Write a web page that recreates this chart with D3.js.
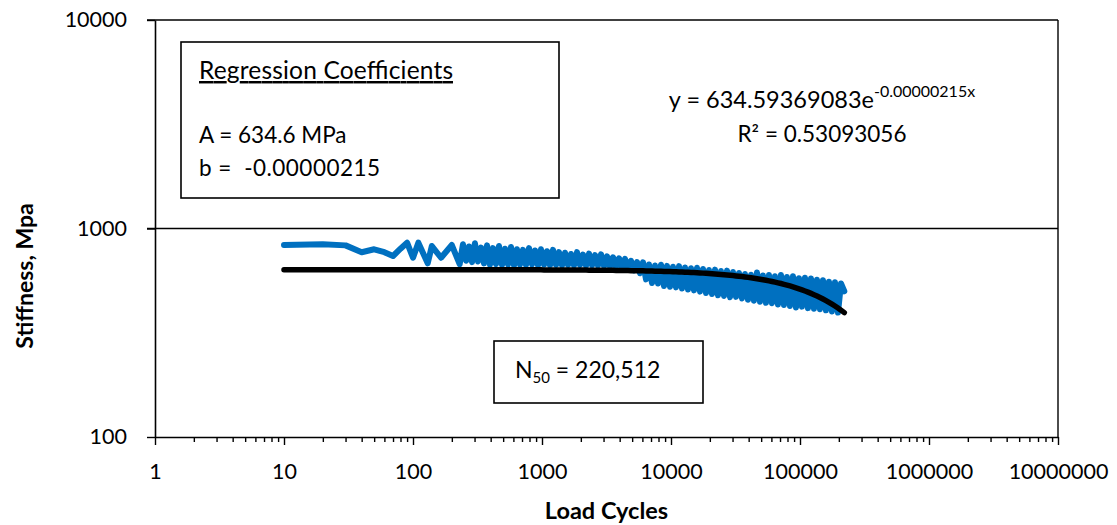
<!DOCTYPE html>
<html>
<head>
<meta charset="utf-8">
<script src="https://cdn.jsdelivr.net/npm/d3@7"></script>
<style>
  html, body { margin: 0; padding: 0; background: #fff; }
  svg { display: block; font-family: Lato, "Open Sans", sans-serif; }
</style>
</head>
<body>
<div id="chart"></div>
<script>
const cycles = [10, 20, 30, 40, 50, 60, 70, 80, 90, 100, 110, 130, 140, 165, 200, 230,
  244, 258, 272, 287, 302, 319,
  337, 355, 375, 395, 417, 440, 464, 490, 517, 545, 575, 607, 640, 675,
  712, 752, 793, 837, 883, 931, 982, 1036, 1094, 1153, 1217, 1284, 1354, 1429,
  1508, 1591, 1678, 1771, 1868, 1971, 2079, 2194, 2314, 2442, 2576, 2718, 2868,
  3025, 3192, 3367, 3552, 3747, 3954, 4171, 4400, 4642,
  4897, 5167, 5451, 5751, 6067,
  6401, 6753, 7124, 7516, 7929, 8365,
  8826, 9311, 9823, 10363, 10934, 11535, 12170, 12839, 13545, 14290, 15077, 15906, 16781,
  17704, 18678, 19705, 20789, 21932, 23139, 24411, 25754, 27171, 28665, 30242, 31906, 33660,
  35512, 37465, 39526, 41700, 43994, 46414, 48967, 51660, 54502, 57500, 60662, 64000, 67517,
  71231, 75150, 79283, 83645, 88246, 93100, 98221, 103625, 109324, 115338, 121682, 128376, 135437, 142888,
  150747, 159040, 167788, 177017, 186754, 197027, 207865, 220512];

const stiffness = [833, 840, 830, 769, 795, 770, 738, 800, 855, 724, 855, 681, 824, 724, 833, 674,
  840, 700, 820, 690, 850, 695,
  810, 680, 830, 670, 805, 675, 825, 668, 800, 672, 815, 665, 795, 670,
  790, 668, 805, 672, 785, 665, 795, 670, 778, 666, 790, 668, 770, 665,
  765, 668, 755, 665, 770, 668, 750, 662, 758, 666, 745, 664, 752,
  660, 735, 656, 728, 655, 720, 652, 715, 650,
  700, 630, 690, 610, 688,
  570, 672, 548, 665, 545, 670,
  530, 662, 525, 655, 522, 660, 515, 650, 510, 645, 505, 648, 498,
  640, 490, 632, 485, 635, 478, 625, 475, 628, 468, 618, 470, 612,
  462, 605, 455, 600, 450, 615, 445, 595, 440, 598, 438, 590, 432,
  598, 430, 585, 425, 590, 418, 578, 422, 580, 415, 575, 412, 568, 410,
  565, 405, 555, 400, 552, 395, 545, 500];

// exponential trendline  y = A e^(b x)
const fitA = 634.59369083;
const fitB = -0.00000215;
const rSquared = "0.53093056";
const n50 = "220,512";

const xTicks = [1, 10, 100, 1000, 10000, 100000, 1000000, 10000000];
const yTicks = [100, 1000, 10000];

const width = 1117, height = 525;
const plot = { left: 155, right: 1058, top: 20, bottom: 437 };

const svg = d3
  .select("#chart")
  .append("svg")
  .attr("width", width)
  .attr("height", height);

const x = d3.scaleLog().domain([1, 1e7]).range([plot.left, plot.right]);
const y = d3.scaleLog().domain([100, 10000]).range([plot.bottom, plot.top]);

const data = cycles.map((c, i) => ({ c, s: stiffness[i] }));

// gridlines + plot border
svg
  .selectAll(".grid")
  .data([1000, 10000])
  .join("line")
  .attr("class", "grid")
  .attr("x1", plot.left - 8)
  .attr("x2", plot.right)
  .attr("y1", (d) => y(d))
  .attr("y2", (d) => y(d))
  .attr("stroke", "#000")
  .attr("stroke-width", 1.4);

svg
  .append("line")
  .attr("x1", plot.right)
  .attr("x2", plot.right)
  .attr("y1", plot.top)
  .attr("y2", plot.bottom)
  .attr("stroke", "#000")
  .attr("stroke-width", 1.4);

// minor ticks on the log x axis
const minorTicks = xTicks
  .slice(0, -1)
  .flatMap((d) => d3.range(2, 10).map((k) => k * d));

svg
  .append("g")
  .attr("transform", `translate(0, ${plot.bottom})`)
  .call(d3.axisBottom(x).tickValues(minorTicks).tickSize(5).tickFormat(""))
  .call((g) => g.select(".domain").remove())
  .call((g) => g.selectAll("line").attr("stroke", "#000").attr("stroke-width", 1.4));

const xAxis = svg
  .append("g")
  .attr("transform", `translate(0, ${plot.bottom})`)
  .call(
    d3.axisBottom(x)
      .tickValues(xTicks)
      .tickSize(8)
      .tickSizeOuter(0)
      .tickPadding(19)
      .tickFormat(d3.format("d"))
  );

xAxis.select(".domain").attr("stroke", "#000").attr("stroke-width", 1.6);
xAxis.selectAll("line").attr("stroke", "#000").attr("stroke-width", 1.4);
xAxis
  .selectAll("text")
  .attr("font-family", "Lato, sans-serif")
  .attr("font-size", 21.5)
  .attr("fill", "#000");

const yAxis = svg
  .append("g")
  .attr("transform", `translate(${plot.left}, 0)`)
  .call(
    d3.axisLeft(y)
      .tickValues(yTicks)
      .tickSize(8)
      .tickSizeOuter(0)
      .tickPadding(20)
      .tickFormat(d3.format("d"))
  );

yAxis.select(".domain").attr("stroke", "#000").attr("stroke-width", 1.6);
yAxis.selectAll("line").attr("stroke", "#000").attr("stroke-width", 1.4);
yAxis
  .selectAll("text")
  .attr("font-family", "Lato, sans-serif")
  .attr("font-size", 21.5)
  .attr("fill", "#000");

// axis titles
svg
  .append("text")
  .attr("x", (plot.left + plot.right) / 2)
  .attr("y", 519)
  .attr("text-anchor", "middle")
  .attr("font-size", 23.5)
  .attr("font-weight", "bold")
  .text("Load Cycles");

svg
  .append("text")
  .attr("transform", "translate(33, 276) rotate(-90)")
  .attr("text-anchor", "middle")
  .attr("font-size", 23)
  .attr("font-weight", "bold")
  .text("Stiffness, Mpa");

// measured series
const line = d3
  .line()
  .x((d) => x(d.c))
  .y((d) => y(d.s));

svg
  .append("path")
  .datum(data)
  .attr("d", line)
  .attr("fill", "none")
  .attr("stroke", "#0070C0")
  .attr("stroke-width", 6)
  .attr("stroke-linejoin", "round")
  .attr("stroke-linecap", "round");

// trendline
const fitLine = d3
  .line()
  .x((d) => x(d))
  .y((d) => y(fitA * Math.exp(fitB * d)));

svg
  .append("path")
  .datum(cycles)
  .attr("d", fitLine)
  .attr("fill", "none")
  .attr("stroke", "#000")
  .attr("stroke-width", 5.5)
  .attr("stroke-linecap", "round");

// regression coefficients box
svg
  .append("rect")
  .attr("x", 181)
  .attr("y", 42)
  .attr("width", 378)
  .attr("height", 156)
  .attr("fill", "#fff")
  .attr("stroke", "#000")
  .attr("stroke-width", 1.6);

svg
  .append("text")
  .attr("x", 199)
  .attr("y", 79)
  .attr("font-size", 24.5)
  .attr("textLength", 254)
  .attr("lengthAdjust", "spacing")
  .attr("text-decoration", "underline")
  .text("Regression Coefficients");

svg
  .append("text")
  .attr("x", 199)
  .attr("y", 143)
  .attr("font-size", 22.5)
  .text(`A = ${d3.format(".1f")(fitA)} MPa`);

svg
  .append("text")
  .attr("x", 199)
  .attr("y", 176)
  .attr("font-size", 22.5)
  .attr("textLength", 181)
  .attr("lengthAdjust", "spacing")
  .style("white-space", "pre")
  .text(`b =  ${fitB.toFixed(8)}`);

// trendline equation
const eq = svg
  .append("text")
  .attr("x", 822)
  .attr("y", 108)
  .attr("text-anchor", "middle")
  .attr("font-size", 23.5);
eq.append("tspan").text(`y = ${fitA}e`);
eq.append("tspan")
  .attr("dy", -11)
  .attr("font-size", 16)
  .text(`${fitB.toFixed(8)}x`);

svg
  .append("text")
  .attr("x", 822)
  .attr("y", 142)
  .attr("text-anchor", "middle")
  .attr("font-size", 22.5)
  .text(`R² = ${rSquared}`);

// N50 box
svg
  .append("rect")
  .attr("x", 494)
  .attr("y", 341)
  .attr("width", 209)
  .attr("height", 62)
  .attr("fill", "#fff")
  .attr("stroke", "#000")
  .attr("stroke-width", 1.6);

const nText = svg
  .append("text")
  .attr("x", 515)
  .attr("y", 378)
  .attr("font-size", 23);
nText.append("tspan").text("N");
nText.append("tspan").attr("dy", 5).attr("font-size", 15).text("50");
nText.append("tspan").attr("dy", -5).text(` = ${n50}`);
</script>
</body>
</html>
